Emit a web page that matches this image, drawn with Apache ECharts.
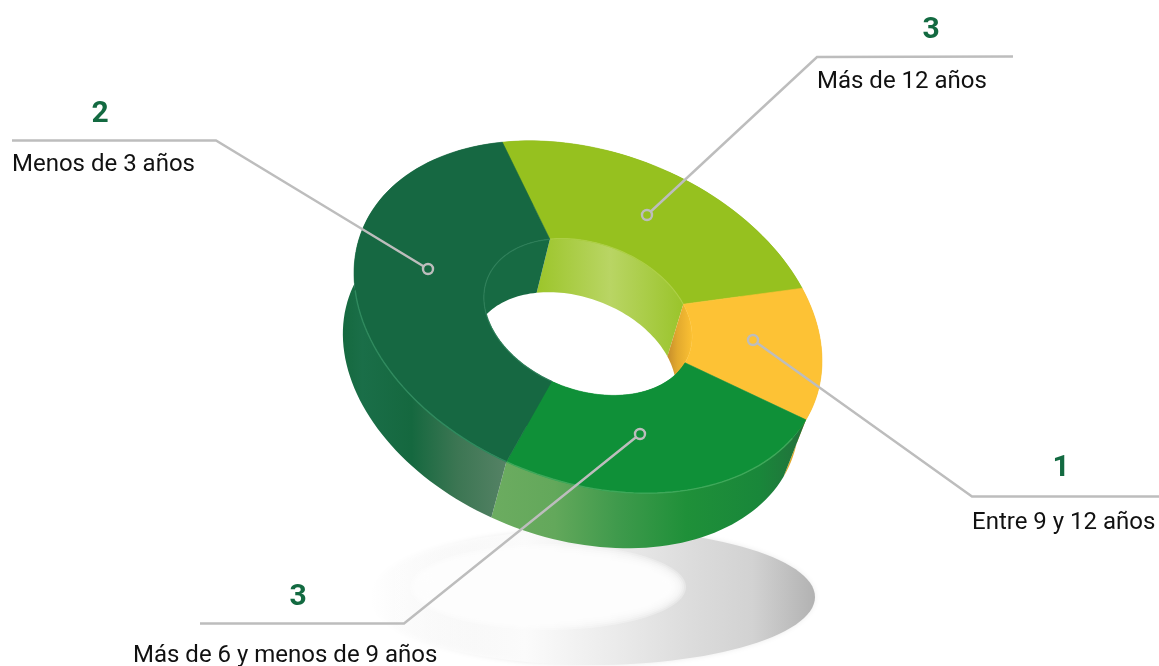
<!DOCTYPE html>
<html><head><meta charset="utf-8">
<style>html,body{margin:0;padding:0;background:#fff}#c{width:1159px;height:666px}</style>
<script src="https://cdn.jsdelivr.net/npm/echarts@6/dist/echarts.min.js"></script>
</head><body><div id="c"></div>
<script>
// DATA
const categories = ['Más de 12 años', 'Entre 9 y 12 años', 'Más de 6 y menos de 9 años', 'Menos de 3 años'];
const counts = [3, 1, 3, 2];
// Slice sweep (degrees of the ring)
const sliceSweeps = [87.7, 45.1, 89.1, 138.1];

// STYLE / LAYOUT
const colors = ['#96c11f', '#fdc235', '#0f9038', '#166842'];
const firstAngle = -125.7;
const tilt = 20.4 * Math.PI / 180;
const ringTop = {cx: 588, cy: 317, a: 242, b: 165};
const innerRatio = 0.445;
const outerBase = {cx: 571, cy: 376.5, s: 0.975};
const innerBase = {cx: 574, cy: 369, s: 0.98};
const callouts = [
  {num: [931, 30], line: [[1013, 56.5], [817, 57], [647, 215]], text: [817, 82]},
  {num: [1061, 468], line: [[1159, 496.5], [972, 496.5], [753, 340]], text: [972, 523]},
  {num: [298, 597], line: [[200, 623.5], [404, 623.5], [640, 434]], text: [133, 656]},
  {num: [100, 114], line: [[12, 140.5], [216, 140.5], [428, 269]], text: [12, 165]}
];
const grad = (stops, x2 = 1, y2 = 0) => ({type: 'linear', x: 0, y: 0, x2, y2,
  colorStops: stops.map(c => ({offset: c[0], color: c[1]}))});
const wallFills = [
  '#7fa51c',
  '#e0a92c',
  grad([[0, '#6cac60'], [0.2, '#63a85b'], [0.4, '#3f9a4c'], [0.62, '#1f9039'], [0.85, '#19873a'], [1, '#23703c']]),
  grad([[0, '#15693f'], [0.12, '#1a6e48'], [0.42, '#15683f'], [0.7, '#3c7653'], [1, '#558265']])
];
const innerWallFills = [
  grad([[0, '#9cc52a'], [0.5, '#b9d564'], [1, '#9ac42b']]),
  grad([[0, '#c58d2c'], [0.4, '#e2a92e'], [1, '#fbc033']]),
  '#0f9038',
  '#176a43'
];
const rimColors = ['#a9cf3c', '#fdc235', '#3fa85a', '#2f8a5e'];
const innerRimColors = ['#aecf47', '#fdc235', '#0f9038', '#2f7f5a'];
const shadowStops = [[0, 'rgba(255,255,255,0)'], [0.35, '#fbfbfb'], [0.55, '#ebebeb'], [0.72, '#dcdcdc'], [0.86, '#d2d2d2'], [1, '#b2b2b2']];

// GEOMETRY
const spans = [];
sliceSweeps.reduce((start, sweep) => { spans.push([start, start + sweep]); return start + sweep; }, firstAngle);
function ell(cx, cy, a, b, deg) {
  const t = deg * Math.PI / 180, u = a * Math.cos(t), v = b * Math.sin(t);
  return [cx + u * Math.cos(tilt) - v * Math.sin(tilt), cy + u * Math.sin(tilt) + v * Math.cos(tilt)];
}
function arc(e, t0, t1) {
  const n = Math.max(4, Math.ceil(Math.abs(t1 - t0) / 2)), out = [];
  for (let i = 0; i <= n; i++) out.push(ell(e.cx, e.cy, e.a, e.b, t0 + (t1 - t0) * i / n));
  return out;
}
const topOuter = ringTop;
const topInner = {cx: ringTop.cx, cy: ringTop.cy, a: ringTop.a * innerRatio, b: ringTop.b * innerRatio};
const botOuter = {cx: outerBase.cx, cy: outerBase.cy, a: ringTop.a * outerBase.s, b: ringTop.b * outerBase.s};
const botInner = {cx: innerBase.cx, cy: innerBase.cy, a: topInner.a * innerBase.s, b: topInner.b * innerBase.s};

const mapPts = (api, pts) => pts.map(p => api.coord(p));
function band(api, e0, e1, s, fill, stroke) {
  const pts = arc(e0, s[0], s[1]).concat(arc(e1, s[1], s[0]));
  return {type: 'polygon', shape: {points: mapPts(api, pts)},
    style: {fill, stroke: stroke || 'none', lineWidth: stroke ? 0.6 : 0}};
}
const sliceData = categories.map((c, i) => ({name: c, value: [i, sliceSweeps[i], counts[i]]}));
const customBase = {type: 'custom', coordinateSystem: 'cartesian2d', silent: true, clip: false, animation: false};

const chart = echarts.init(document.getElementById('c'), null, {renderer: 'canvas'});
chart.setOption({
  animation: false,
  backgroundColor: '#fff',
  grid: {left: 0, right: 0, top: 0, bottom: 0},
  xAxis: {type: 'value', min: 0, max: 1159, show: false},
  yAxis: {type: 'value', min: 0, max: 666, inverse: true, show: false},
  series: [
    // Ground shadow
    Object.assign({}, customBase, {data: [[0, 0]], renderItem(p, api) {
      const sh = {cx: 592, cy: 597, a: 223, b: 68};
      const hole = {cx: 548, cy: 587, a: 128, b: 33};
      const level = (e, d0) => { const o = []; for (let d = 0; d < 360; d += 3) { const t = d * Math.PI / 180;
        o.push(api.coord([e.cx + (e.a + d0) * Math.cos(t), e.cy + (e.b + d0) * Math.sin(t)])); } return o; };
      const kids = [{type: 'polygon', shape: {points: level(sh, 0)}, style: {
        fill: grad(shadowStops), shadowBlur: 5, shadowColor: 'rgba(190,190,190,0.3)'}}];
      for (let d0 = 10; d0 >= -10; d0 -= 2) kids.push({type: 'polygon', shape: {points: level(hole, d0)}, style: {fill: 'rgba(255,255,255,0.3)'}});
      return {type: 'group', children: kids};
    }}),
    // Outer wall
    Object.assign({}, customBase, {data: sliceData, renderItem(p, api) {
      const i = api.value(0);
      return band(api, topOuter, botOuter, spans[i], wallFills[i], null);
    }}),
    // Inner wall
    Object.assign({}, customBase, {data: sliceData, renderItem(p, api) {
      const i = api.value(0);
      return band(api, topInner, botInner, spans[i], innerWallFills[i], null);
    }}),
    // Top face and rims
    Object.assign({}, customBase, {data: sliceData, renderItem(p, api) {
      const i = api.value(0), s = spans[i];
      const children = [
        band(api, topOuter, topInner, s, colors[i], colors[i]),
        {type: 'polyline', shape: {points: mapPts(api, arc(topInner, s[0], s[1]))}, style: {
          fill: 'none', stroke: innerRimColors[i], lineWidth: i === 2 ? 0 : 1.2, opacity: i === 1 ? 0 : 0.9}}
      ];
      if (i >= 2) children.push({type: 'polyline', shape: {points: mapPts(api, arc(topOuter, Math.max(s[0], 15), Math.min(s[1], 160)))},
        style: {fill: 'none', stroke: rimColors[i], lineWidth: 1.4}});
      return {type: 'group', children};
    }}),
    // Callouts
    Object.assign({}, customBase, {data: sliceData, renderItem(p, api) {
      const i = api.value(0), c = callouts[i], end = api.coord(c.line[2]);
      const n = api.coord(c.num), t = api.coord(c.text);
      return {type: 'group', children: [
        {type: 'polyline', shape: {points: mapPts(api, c.line)}, style: {fill: 'none', stroke: '#bdbdbd', lineWidth: 2.4}},
        {type: 'circle', shape: {cx: end[0], cy: end[1], r: 5}, style: {fill: colors[i], stroke: '#bdbdbd', lineWidth: 2.4}},
        {type: 'text', x: n[0], y: n[1], style: {text: String(api.value(2)), font: '700 30px Roboto', fill: '#136a41', textAlign: 'center', textVerticalAlign: 'middle'}},
        {type: 'text', x: t[0], y: t[1], style: {text: categories[i], font: '400 24px Roboto', fill: '#111', textAlign: 'left', textVerticalAlign: 'middle'}}
      ]};
    }})
  ]
});
</script></body></html>
